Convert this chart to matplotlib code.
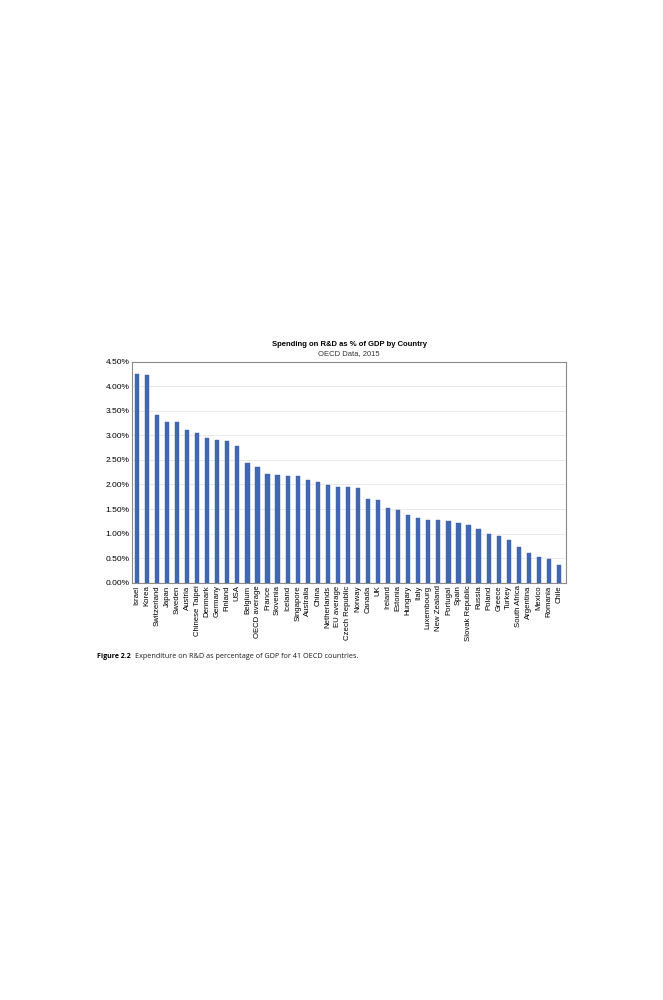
import matplotlib.pyplot as plt
from matplotlib.ticker import FuncFormatter

# values (% of GDP)
countries = ['Israel', 'Korea', 'Switzerland', 'Japan', 'Sweden', 'Austria',
             'Chinese Taipei', 'Denmark', 'Germany', 'Finland', 'USA', 'Belgium',
             'OECD average', 'France', 'Slovenia', 'Iceland', 'Singapore',
             'Australia', 'China', 'Netherlands', 'EU average', 'Czech Republic',
             'Norway', 'Canada', 'UK', 'Ireland', 'Estonia', 'Hungary', 'Italy',
             'Luxembourg', 'New Zealand', 'Portugal', 'Spain', 'Slovak Republic',
             'Russia', 'Poland', 'Greece', 'Turkey', 'South Africa', 'Argentina',
             'Mexico', 'Romania', 'Chile']
spending = [4.25, 4.23, 3.41, 3.28, 3.27, 3.10, 3.04, 2.95, 2.91, 2.88, 2.78,
            2.44, 2.36, 2.21, 2.20, 2.18, 2.17, 2.09, 2.05, 1.98, 1.95, 1.94,
            1.93, 1.70, 1.69, 1.52, 1.48, 1.37, 1.32, 1.27, 1.27, 1.26, 1.21,
            1.17, 1.09, 0.99, 0.96, 0.87, 0.72, 0.61, 0.52, 0.48, 0.37]
yticks = [0, 0.5, 1.0, 1.5, 2.0, 2.5, 3.0, 3.5, 4.0, 4.5]

plt.rcParams['font.family'] = ['Liberation Sans', 'DejaVu Sans']

fig = plt.figure(figsize=(6.63, 10), dpi=100)
ax = fig.add_axes([0.1996, 0.4173, 0.6541, 0.221])

x = list(range(len(countries)))
ax.bar(x, spending, width=0.42, color='#4169b2', edgecolor='#3a5ea8', linewidth=0.3, zorder=3)

ax.set_ylim(0, 4.5)
ax.set_xlim(-0.45, len(countries) - 0.3)
ax.set_yticks(yticks)
ax.yaxis.set_major_formatter(FuncFormatter(lambda v, p: '%.2f%%' % v))
ax.set_xticks(x)
ax.set_xticklabels(countries, rotation=90, fontsize=5.6)
ax.tick_params(axis='y', labelsize=6, length=0, pad=2)
ax.tick_params(axis='x', length=0, pad=2)
ax.grid(axis='y', color='#e6e6e6', linewidth=0.6, zorder=0)
for s in ax.spines.values():
    s.set_color('#8a8a8a')
    s.set_linewidth(0.8)

fig.text(0.5264, 1 - 344.5 / 1000, 'Spending on R&D as % of GDP by Country',
         ha='center', va='center', fontsize=5.5, fontweight='bold')
fig.text(0.5264, 1 - 354 / 1000, 'OECD Data, 2015',
         ha='center', va='center', fontsize=5.5, color='#333333')

# figure caption under the chart
fig.text(97 / 663, 1 - 657.5 / 1000, 'Figure 2.2', ha='left', va='baseline',
         fontsize=5.0, fontweight='bold', family=['Open Sans', 'DejaVu Sans'])
fig.text(135 / 663, 1 - 657.5 / 1000,
         'Expenditure on R&D as percentage of GDP for 41 OECD countries.',
         ha='left', va='baseline', fontsize=5.2, color='#1a1a1a',
         family=['Open Sans', 'DejaVu Sans'])

fig.savefig('out.png', dpi=100)
